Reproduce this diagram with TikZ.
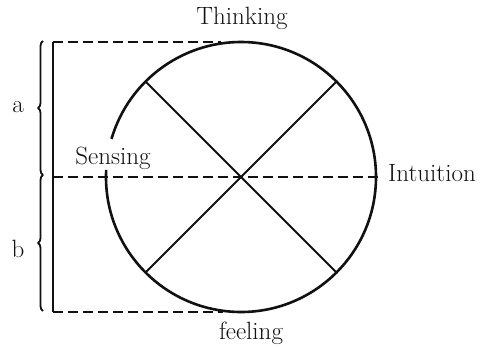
\documentclass[tikz,border=0pt]{standalone}
\usepackage{tikz}
\usetikzlibrary{decorations.pathreplacing,positioning}
\definecolor{jtInk}{HTML}{111111}
\tikzset{
  jt diagram/.style={x=1pt, y=1pt, font=\fontsize{25}{29}\selectfont,
    text=jtInk, line join=round},
  jt ring/.style={draw=jtInk, line width=2.6pt},
  jt axis/.style={draw=jtInk, line width=1.8pt},
  jt guide/.style={draw=jtInk, line width=1.7pt, dash pattern=on 10pt off 5pt},
  jt brace/.style={draw=jtInk, line width=1.8pt, decorate,
    decoration={brace, amplitude=5pt}},
  jt label/.style={inner sep=0pt}
}
\begin{document}
\begin{tikzpicture}[jt diagram]
\useasboundingbox (0,0) rectangle (487,347);
% the wheel, open at Sensing
\node[circle, minimum size=270pt, inner sep=0pt, outer sep=0pt] (wheel) at (241,170) {};
\draw[jt ring] (wheel.177) arc[start angle=177, end angle=523.6, radius=135pt];
\draw[jt axis] (wheel.135) -- (wheel.-45);
\draw[jt axis] (wheel.45) -- (wheel.-135);
% frame on the left
\coordinate (topL) at (53,305);
\coordinate (midL) at (53,170);
\coordinate (botL) at (53,35);
\draw[jt axis] (topL) -- (botL);
\draw[jt guide] (topL) -- ([xshift=-20pt]wheel.north);
\draw[jt guide] (midL) -- ([xshift=3pt]wheel.east);
\draw[jt guide] (botL) -- ([xshift=-18pt]wheel.south);
\draw[jt brace] (43,172) -- (43,306);
\draw[jt brace] (43,36) -- (43,172);
\node[jt label] (labA) at (18,240) {a};
\node[jt label] (labB) at (18,98) {b};
% the four functions
\node[jt label] (thinking) at (242,329) {Thinking};
\node[jt label] (feeling) at (251,14) {feeling};
\node[jt label] (sensing) at (113,189) {Sensing};
\node[jt label, anchor=west] (intuition) at (388,174) {Intuition};
\end{tikzpicture}
\end{document}
